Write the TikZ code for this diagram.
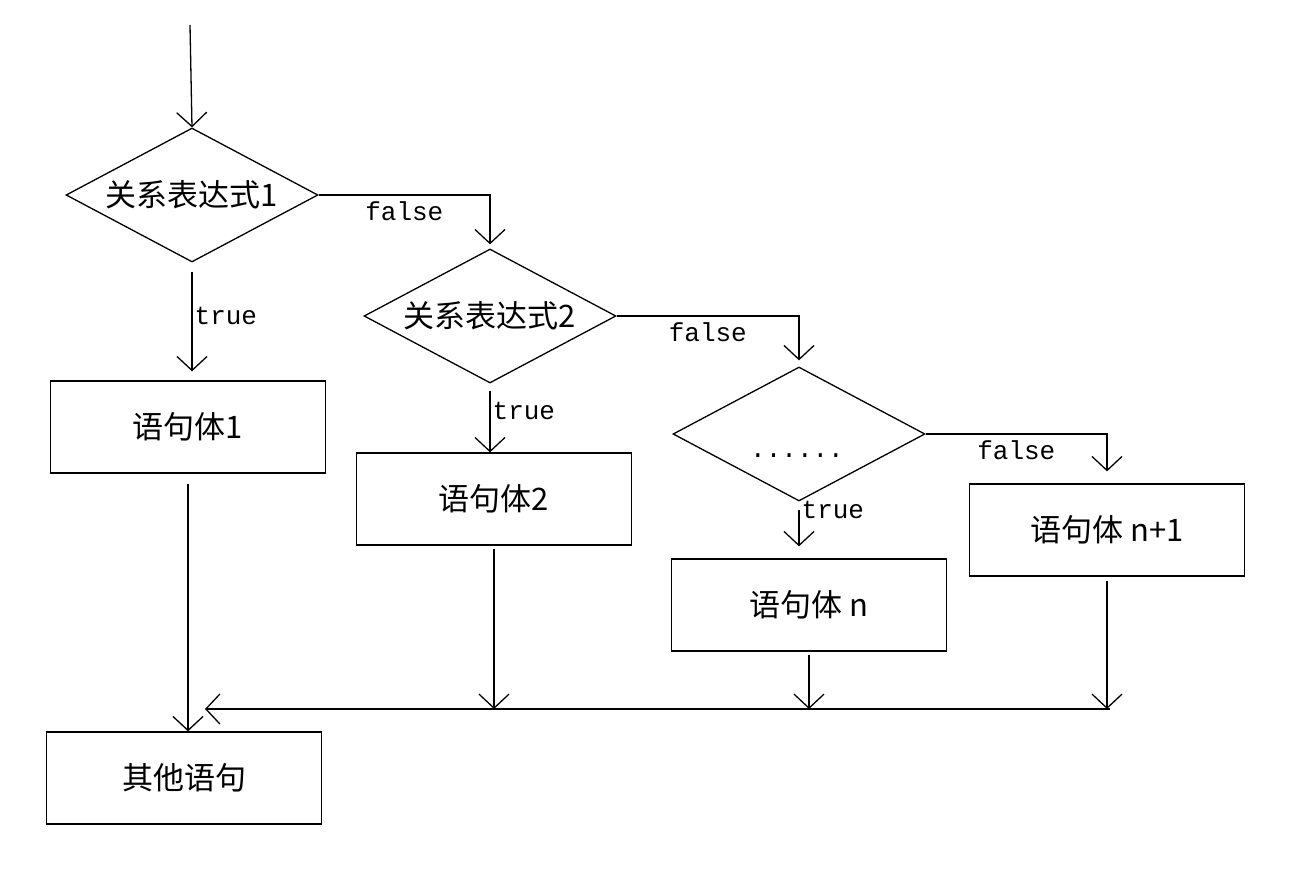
\documentclass[tikz,border=0pt]{standalone}
\usepackage{fontspec}
\newfontfamily\cjk{Noto Sans CJK SC}
\newfontfamily\lblfont{Liberation Mono}
\usetikzlibrary{shapes.geometric,arrows.meta}
\tikzset{
  cond/.style={draw,diamond,aspect=1.88,inner sep=0pt,minimum width=252pt,minimum height=134pt,font=\cjk\fontsize{31}{34}\selectfont},
  stmt/.style={draw,rectangle,inner sep=0pt,minimum width=275pt,minimum height=92pt,font=\cjk\fontsize{31}{34}\selectfont},
  arr/.style={-{Straight Barb[length=14pt,width=30pt]}},
  lbl/.style={font=\lblfont\fontsize{26}{30}\selectfont,inner sep=2pt}
}
\begin{document}
\begin{tikzpicture}[x=1pt,y=-1pt,line width=1.3pt]
  \useasboundingbox (0,0) rectangle (1306,872);

  \node[cond] (d1) at (192,195) {关系表达式1};
  \node[cond] (d2) at (490,316) {关系表达式2};
  \node[cond] (d3) at (799,434) {};
  \node[lbl] (dots) at (797,456) {......};

  \node[stmt] (b1) at (188,427) {语句体1};
  \node[stmt] (b2) at (494,499) {语句体2};
  \node[stmt] (bn) at (809,605) {语句体 n};
  \node[stmt] (bn1) at (1107,530) {语句体 n+1};
  \node[stmt] (other) at (184,778) {其他语句};

  \coordinate (start) at (190,25);
  \coordinate (join) at (1110,709);
  \coordinate (joinend) at (205,709);

  % entry
  \draw[arr] (start) -- (d1.north);

  % false branches
  \draw[arr,shorten >=4pt] (d1.east) -| node[lbl,pos=0.25,below=4pt] {false} (d2.north);
  \draw[arr,shorten >=6pt] (d2.east) -| node[lbl,pos=0.25,below=4pt] {false} (d3.north);
  \draw[arr,shorten >=12pt] (d3.east) -| node[lbl,pos=0.25,below=4pt] {false} (bn1.north);

  % true branches
  \draw[arr,shorten <=9pt,shorten >=9pt] (d1.south) -- node[lbl,right,pos=0.45] {true} (d1.south |- b1.north);
  \draw[arr,shorten <=7pt] (d2.south) -- node[lbl,right,pos=0.4] {true} (d2.south |- b2.north);
  \draw[arr,shorten <=8pt,shorten >=12pt] (d3.south) -- node[lbl,right,pos=0.15] {true} (d3.south |- bn.north);

  % merge
  \draw[arr,shorten <=10pt] (b1.south) -- (b1.south |- other.north);
  \draw[arr,shorten <=3pt] (b2.south) -- (b2.south |- join);
  \draw[arr,shorten <=3pt] (bn.south) -- (bn.south |- join);
  \draw[arr,shorten <=4pt] (bn1.south) -- (bn1.south |- join);
  \draw[arr] (join) -- (joinend);
\end{tikzpicture}
\end{document}
